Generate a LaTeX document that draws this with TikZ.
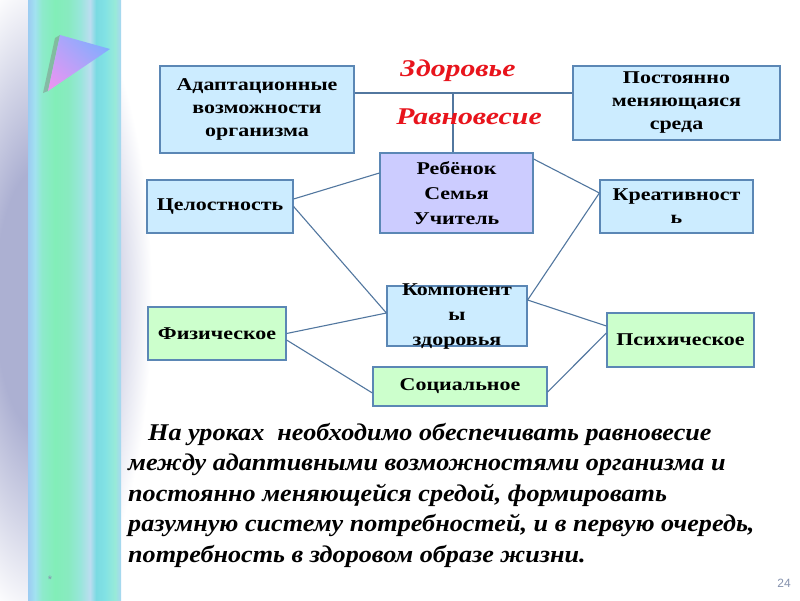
\documentclass[tikz,border=0pt]{standalone}
\usepackage{fontspec}
\setmainfont{Liberation Serif}
\newfontfamily\boxfont{Liberation Serif}[FakeStretch=1.22]
\newfontfamily\headfont{Liberation Serif}[FakeStretch=1.24]
\newfontfamily\notefont{Liberation Serif}[FakeStretch=1.09]
\newfontfamily\numfont{Liberation Sans}
\usetikzlibrary{positioning}
\usetikzlibrary{shadings}
\usepackage{xcolor}
\definecolor{boxblue}{HTML}{CCECFF}
\definecolor{boxlilac}{HTML}{CCCCFF}
\definecolor{boxmint}{HTML}{CCFFCC}
\definecolor{edgeblue}{HTML}{5B87B5}
\definecolor{wire}{HTML}{52779F}
\definecolor{accent}{HTML}{E8141C}
\definecolor{glow}{HTML}{ACB0D2}
\definecolor{slidegrey}{HTML}{8592AE}
\definecolor{bandA}{HTML}{9CCCF2}
\definecolor{bandB}{HTML}{A2E2F0}
\definecolor{bandC}{HTML}{8EEACC}
\definecolor{bandD}{HTML}{82EEB8}
\definecolor{bandE}{HTML}{88EAC0}
\definecolor{bandF}{HTML}{98E6DA}
\definecolor{bandG}{HTML}{BCDDF0}
\definecolor{bandH}{HTML}{7ADAE2}
\definecolor{bandI}{HTML}{82E2E4}
\definecolor{bandJ}{HTML}{98EAD8}
\definecolor{bandK}{HTML}{A8D6F2}
\definecolor{tipblue}{HTML}{6EB0FF}
\definecolor{tippink}{HTML}{F292F0}
\definecolor{tipmid}{HTML}{B4A4FA}
\pgfdeclarehorizontalshading{band}{100bp}{color(0bp)=(bandA); color(25bp)=(bandA);
  color(28.8bp)=(bandB); color(32.5bp)=(bandC); color(39.5bp)=(bandD);
  color(46.5bp)=(bandE); color(53bp)=(bandF); color(58.3bp)=(bandG);
  color(61.6bp)=(bandH); color(66.4bp)=(bandI); color(71.8bp)=(bandJ);
  color(75bp)=(bandK); color(100bp)=(bandK)}
\pgfdeclareradialshading{haze}{\pgfpoint{0bp}{0bp}}{color(0bp)=(glow);
  color(10bp)=(glow); color(17bp)=(glow!55!white); color(25bp)=(white);
  color(50bp)=(white)}

\begin{document}
\begin{tikzpicture}[
  x=1pt, y=-1pt,
  block/.style={rectangle, draw=edgeblue, line width=1.2pt, inner sep=0pt,
    align=center, font=\boxfont\bfseries\fontsize{18}{23}\selectfont},
  skybox/.style={block, fill=boxblue},
  lilacbox/.style={block, fill=boxlilac},
  mintbox/.style={block, fill=boxmint},
  link/.style={draw=wire, line width=1.1pt},
  title/.style={text=accent, font=\headfont\bfseries\itshape\fontsize{24}{26}\selectfont},
  note/.style={align=left, inner sep=0pt,
    font=\notefont\bfseries\itshape\fontsize{24}{30.5}\selectfont},
]
\useasboundingbox (0,0) rectangle (800,600);

% === Slide background ===
\fill[white] (0,0) rectangle (800,600);
\begin{scope}
  \clip (0,0) rectangle (170,600);
  \shade[shading=haze] (40,300) ellipse (112 and 330);
\end{scope}
\shade[shading=band] (28,0) rectangle (121,600);

% corner mark
\fill[gray, opacity=0.45] (55,38) -- (60,35) -- (48,91) -- (43,93) -- cycle;
\shade[upper right=tipblue, lower left=tippink, upper left=tipmid, lower right=tipmid]
  (60,35) -- (110,49) -- (48,91) -- cycle;

% === Top row ===
\node[skybox, minimum width=194, minimum height=87] (adapt) at (257,109.5)
  {Адаптационные\\возможности\\организма};
\node[skybox, minimum width=207, minimum height=74] (sreda) at (676.5,103)
  {Постоянно\\меняющаяся\\среда};

% === Middle row ===
\node[lilacbox, minimum width=153, minimum height=80,
  font=\boxfont\bfseries\fontsize{18}{25}\selectfont] (child) at (456.5,193)
  {Ребёнок\\Семья\\Учитель};
\node[skybox, minimum width=146, minimum height=53] (whole) at (220,206.5)
  {Целостность};
\node[skybox, minimum width=153, minimum height=53] (creat) at (676.5,206.5)
  {Креативност\\ь};

% === Components ===
\node[skybox, minimum width=140, minimum height=60] (comp) at (457,316) {};
\node[font=\boxfont\bfseries\fontsize{18}{25}\selectfont, align=center,
  inner sep=0pt] (comptext) at ([yshift=-1pt]comp.center) {Компонент\\ы\\здоровья};
\node[mintbox, minimum width=138, minimum height=53] (phys) at (217,333.5)
  {Физическое};
\node[mintbox, minimum width=147, minimum height=54] (psych) at (680.5,340)
  {Психическое};
\node[mintbox, minimum width=174, minimum height=39] (social) at (460,386.5)
  {Социальное};

% === Connectors ===
\coordinate (hub) at ([xshift=-3.5pt, yshift=16.5pt]adapt.east -| child.north);
\draw[link] ([yshift=16.5pt]adapt.east) -- ([yshift=16.5pt]adapt.east -| sreda.west);
\draw[link] (hub) -- (hub |- child.north);
\draw[link] ([yshift=7.5pt]whole.east) -- ([yshift=20pt]child.west);
\draw[link] (whole.east) -- ([yshift=3pt]comp.west);
\draw[link] ([yshift=34pt]child.east) -- ([yshift=13.5pt]creat.west);
\draw[link] ([yshift=13.5pt]creat.west) -- ([yshift=16pt]comp.east);
\draw[link] (phys.east) -- ([yshift=3pt]comp.west);
\draw[link] ([yshift=-6.5pt]phys.east) -- ([yshift=-6.5pt]social.west);
\draw[link] ([yshift=16pt]comp.east) -- ([yshift=14pt]psych.west);
\draw[link] ([yshift=-5.5pt]social.east) -- ([yshift=7pt]psych.west);

% === Headings ===
\node[title] (health) at (458,71) {Здоровье};
\node[title] (balance) at (469,117) {Равновесие};

% === Closing note ===
\node[note, anchor=north west] (lesson) at (128,423)
  {\hspace*{20pt}На уроках\ \ необходимо обеспечивать равновесие\\
   между адаптивными возможностями организма и\\
   постоянно меняющейся средой, формировать\\
   разумную систему потребностей, и в первую очередь,\\
   потребность в здоровом образе жизни.};

% slide marks
\node[text=slidegrey, font=\numfont\fontsize{11}{12}\selectfont] (star) at (50,580) {*};
\node[text=slidegrey, font=\numfont\fontsize{12}{14}\selectfont] (page) at (784,583) {24};
\end{tikzpicture}
\end{document}
